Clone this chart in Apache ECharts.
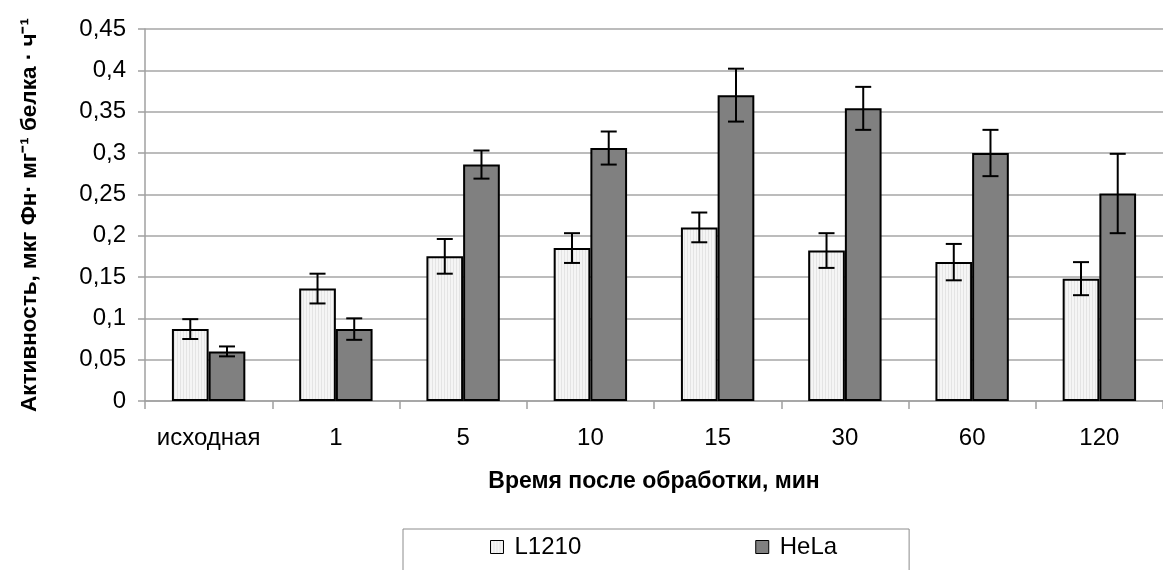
<!DOCTYPE html>
<html>
<head>
<meta charset="utf-8">
<script src="https://cdn.jsdelivr.net/npm/echarts@6/dist/echarts.min.js"></script>
<style>
html,body{margin:0;padding:0;background:#fff;}
#chart{width:1163px;height:570px;}
</style>
</head>
<body>
<div id="chart"></div>
<script>
const categories = ['исходная', '1', '5', '10', '15', '30', '60', '120'];
const seriesNames = ['L1210', 'HeLa'];
const l1210Values = [0.087, 0.136, 0.175, 0.185, 0.210, 0.182, 0.168, 0.148];
const l1210Errors = [0.012, 0.018, 0.021, 0.018, 0.018, 0.021, 0.022, 0.020];
const helaValues = [0.060, 0.087, 0.286, 0.306, 0.370, 0.354, 0.300, 0.251];
const helaErrors = [0.006, 0.013, 0.017, 0.020, 0.032, 0.026, 0.028, 0.048];
const yTicks = [0, 0.05, 0.1, 0.15, 0.2, 0.25, 0.3, 0.35, 0.4, 0.45];

const FONT = '"Liberation Sans", Arial, sans-serif';
const BAR_W = 36.7;

// light stripe pattern for L1210
const pc = document.createElement('canvas');
pc.width = 3; pc.height = 8;
const pctx = pc.getContext('2d');
pctx.fillStyle = '#f5f5f5'; pctx.fillRect(0, 0, 3, 8);
pctx.fillStyle = '#e4e4e4'; pctx.fillRect(0, 0, 1, 8);
const lightFill = { image: pc, repeat: 'repeat' };

function errSeries(values, errors, side) {
  return {
    type: 'custom',
    silent: true,
    z: 10,
    data: values.map((v, i) => [i, v, errors[i]]),
    renderItem: function (params, api) {
      const i = api.value(0), v = api.value(1), e = api.value(2);
      const top = api.coord([i, v + e]);
      const bot = api.coord([i, v - e]);
      const x = top[0] + side * BAR_W / 2;
      const hw = 8;
      const st = { stroke: '#000', lineWidth: 2 };
      return {
        type: 'group',
        children: [
          { type: 'line', shape: { x1: x, y1: top[1], x2: x, y2: bot[1] }, style: st },
          { type: 'line', shape: { x1: x - hw, y1: top[1], x2: x + hw, y2: top[1] }, style: st },
          { type: 'line', shape: { x1: x - hw, y1: bot[1], x2: x + hw, y2: bot[1] }, style: st }
        ]
      };
    }
  };
}

const chart = echarts.init(document.getElementById('chart'), null, { renderer: 'canvas' });
chart.setOption({
  animation: false,
  backgroundColor: '#fff',
  textStyle: { fontFamily: FONT, color: '#000' },
  grid: { left: 145, right: -10, top: 29, bottom: 169, containLabel: false },
  legend: {
    left: 403, top: 529,
    padding: [6, 72, 40, 87],
    borderColor: '#8c8c8c', borderWidth: 1,
    itemWidth: 13, itemHeight: 13, itemGap: 174,
    itemStyle: { borderWidth: 1 },
    textStyle: { fontFamily: FONT, fontSize: 24, color: '#000', padding: [0, 0, 0, 6] },
    data: seriesNames.map(n => ({ name: n, icon: 'rect' }))
  },
  xAxis: {
    type: 'category',
    data: categories,
    name: 'Время после обработки, мин',
    nameLocation: 'middle',
    nameGap: 69,
    nameTextStyle: { fontFamily: FONT, fontSize: 23, fontWeight: 'bold', color: '#000' },
    axisLine: { lineStyle: { color: '#a0a0a0', width: 1.5 } },
    axisTick: { show: true, interval: 0, length: 8, lineStyle: { color: '#a0a0a0', width: 1.5 } },
    axisLabel: { interval: 0, fontFamily: FONT, fontSize: 24, color: '#000', margin: 25 },
    splitLine: { show: false }
  },
  yAxis: {
    type: 'value',
    min: 0, max: 0.45, interval: 0.05,
    name: 'Активность, мкг Фн· мг⁻¹ белка · ч⁻¹',
    nameLocation: 'middle',
    nameRotate: 90,
    nameGap: 104,
    nameTextStyle: { fontFamily: FONT, fontSize: 22.5, fontWeight: 'bold', color: '#000' },
    axisLine: { show: true, lineStyle: { color: '#a0a0a0', width: 1.5 } },
    axisTick: { show: true, length: 7, lineStyle: { color: '#a0a0a0', width: 1.5 } },
    axisLabel: {
      fontFamily: FONT, fontSize: 24, color: '#000', margin: 19,
      formatter: function (v) {
        const t = yTicks.find(x => Math.abs(x - v) < 1e-9);
        return String(t !== undefined ? t : +v.toFixed(2)).replace('.', ',');
      }
    },
    splitLine: { show: true, lineStyle: { color: '#a6a6a6', width: 1.5 } }
  },
  series: [
    {
      name: seriesNames[0], type: 'bar', data: l1210Values,
      barWidth: BAR_W, barGap: '0%',
      itemStyle: { color: lightFill, borderColor: '#000', borderWidth: 2 }
    },
    {
      name: seriesNames[1], type: 'bar', data: helaValues,
      barWidth: BAR_W, barGap: '0%',
      itemStyle: { color: '#808080', borderColor: '#000', borderWidth: 2 }
    },
    errSeries(l1210Values, l1210Errors, -1),
    errSeries(helaValues, helaErrors, 1)
  ]
});
</script>
</body>
</html>
